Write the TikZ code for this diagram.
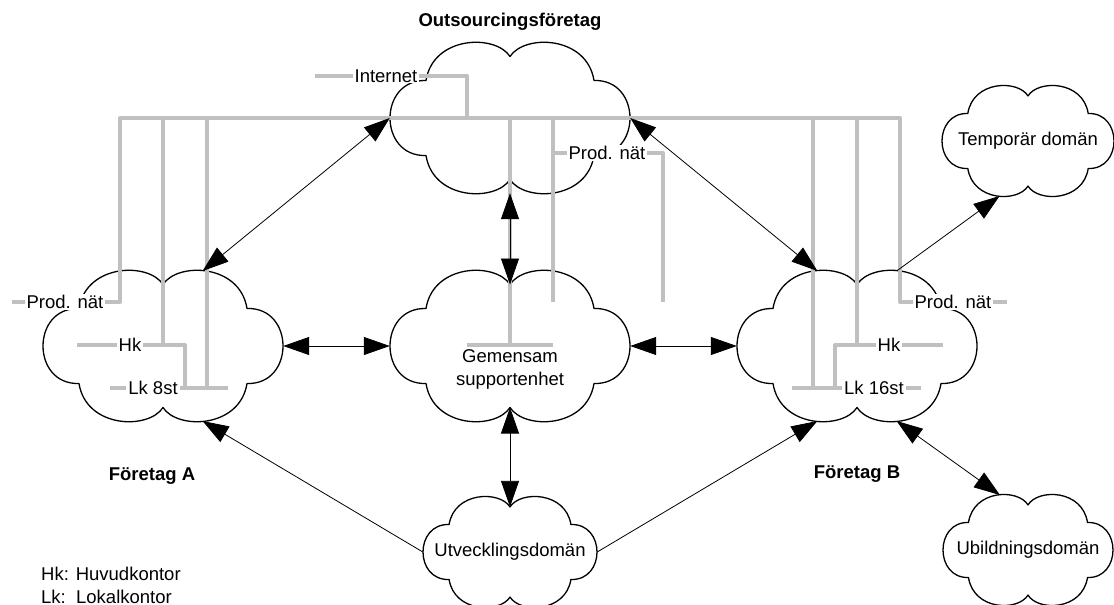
\documentclass[tikz,border=0pt]{standalone}
\usepackage{fontspec}
\setmainfont{Liberation Sans}
\usetikzlibrary{arrows.meta}
\definecolor{netgray}{RGB}{192,192,192}
\newcommand\mycloud[6]{%
  \draw[cloudline,shift={(#2,#3)},xscale=#4,yscale=#5]
    (-0.70,-0.50) .. controls (-0.64,-1.10) and (-0.12,-1.12) .. (0,-0.82)
    .. controls (0.12,-1.12) and (0.64,-1.10) .. (0.70,-0.50)
    .. controls (1.10,-0.52) and (1.10,0.52) .. (0.70,0.50)
    .. controls (0.64,1.10) and (0.12,1.12) .. (0,0.82)
    .. controls (-0.12,1.12) and (-0.64,1.10) .. (-0.70,0.50)
    .. controls (-1.10,0.52) and (-1.10,-0.52) .. cycle;
  \node[txt,minimum width=2*#4pt,minimum height=2*#5pt] (#1) at (#2,#3) {#6};
  \coordinate (#1-t) at (#2,#3-0.82*#5);
  \coordinate (#1-b) at (#2,#3+0.82*#5);
  \coordinate (#1-tl) at (#2-0.33*#4,#3-#5);
  \coordinate (#1-tr) at (#2+0.33*#4,#3-#5);
  \coordinate (#1-bl) at (#2-0.33*#4,#3+#5);
  \coordinate (#1-br) at (#2+0.33*#4,#3+#5);
}
\begin{document}
\begin{tikzpicture}[x=1pt,y=-1pt,
  cloudline/.style={draw=black,line width=1.3pt,fill=white,line join=round},
  net/.style={draw=netgray,line width=4pt,line join=round},
  lbl/.style={fill=white,inner xsep=2pt,inner ysep=1pt,font=\fontsize{18.5}{22}\selectfont},
  txt/.style={font=\fontsize{18.5}{23}\selectfont,align=center,inner sep=0pt},
  ttl/.style={font=\bfseries\fontsize{18.5}{22}\selectfont,inner sep=0pt},
  conn/.style={draw=black,line width=0.8pt,>={Triangle[length=26pt,width=18pt]}},
]
\useasboundingbox (0,0) rectangle (1114,605);

% clouds
\mycloud{O}{510}{118}{120}{75}{}
\mycloud{A}{163}{346}{120}{75}{}
\mycloud{G}{510}{346}{120}{75}{}
\mycloud{B}{857}{346}{120}{75}{}
\mycloud{T}{1028}{141}{86}{55}{Temporär domän}
\mycloud{U}{510}{552}{87}{55}{Utvecklingsdomän}
\mycloud{Ub}{1028}{550}{85}{55}{Ubildningsdomän}
\node[txt] (Gtext) at (510,369) {Gemensam\\supportenhet};

% gray network
\draw[net] (12,302) -- (120,302) -- (120,118) -- (900,118) -- (900,302) -- (1007,302);
\draw[net] (163,118) -- (163,345);
\draw[net] (207,118) -- (207,388);
\draw[net] (77,345) -- (185,345) -- (185,388);
\draw[net] (110,388) -- (228,388);
\draw[net] (315,76) -- (467,76) -- (467,118);
\draw[net] (510,118) -- (510,345);
\draw[net] (467,345) -- (553,345);
\draw[net] (553,118) -- (553,302);
\draw[net] (553,153) -- (663,153) -- (663,302);
\draw[net] (813,118) -- (813,388);
\draw[net] (857,118) -- (857,345);
\draw[net] (943,345) -- (835,345) -- (835,388);
\draw[net] (792,388) -- (921,388);

% network labels
\node[lbl] (pA) at (65,302) {Prod. nät};
\node[lbl] (hkA) at (130,345) {Hk};
\node[lbl] (lkA) at (153,388) {Lk 8st};
\node[lbl] (inet) at (386,76) {Internet};
\node[lbl] (pO) at (607,153) {Prod. nät};
\node[lbl] (pB) at (953,302) {Prod. nät};
\node[lbl] (hkB) at (889,345) {Hk};
\node[lbl] (lkB) at (874,388) {Lk 16st};

% connectors
\draw[conn,<->] (A-tr) -- (O.west);
\draw[conn,<->] (O.east) -- (B-tl);
\draw[conn,<->] (O.south) -- (G-t);
\draw[conn,<->] (A.east) -- (G.west);
\draw[conn,<->] (G.east) -- (B.west);
\draw[conn,<->] (G-b) -- (U-t);
\draw[conn,->] (U.west) -- (A-br);
\draw[conn,->] (U.east) -- (B-bl);
\draw[conn,<->] (B-br) -- (Ub-tl);
\draw[conn,->] (B-tr) -- (T-bl);

% titles
\node[ttl] (tO) at (510,22) {Outsourcingsföretag};
\node[ttl] (tA) at (152,476) {Företag A};
\node[ttl] (tB) at (857,474) {Företag B};
\node[txt,align=left,anchor=west] (legend) at (41,585) {Hk: Huvudkontor\\Lk:\ \ Lokalkontor};
\end{tikzpicture}
\end{document}
